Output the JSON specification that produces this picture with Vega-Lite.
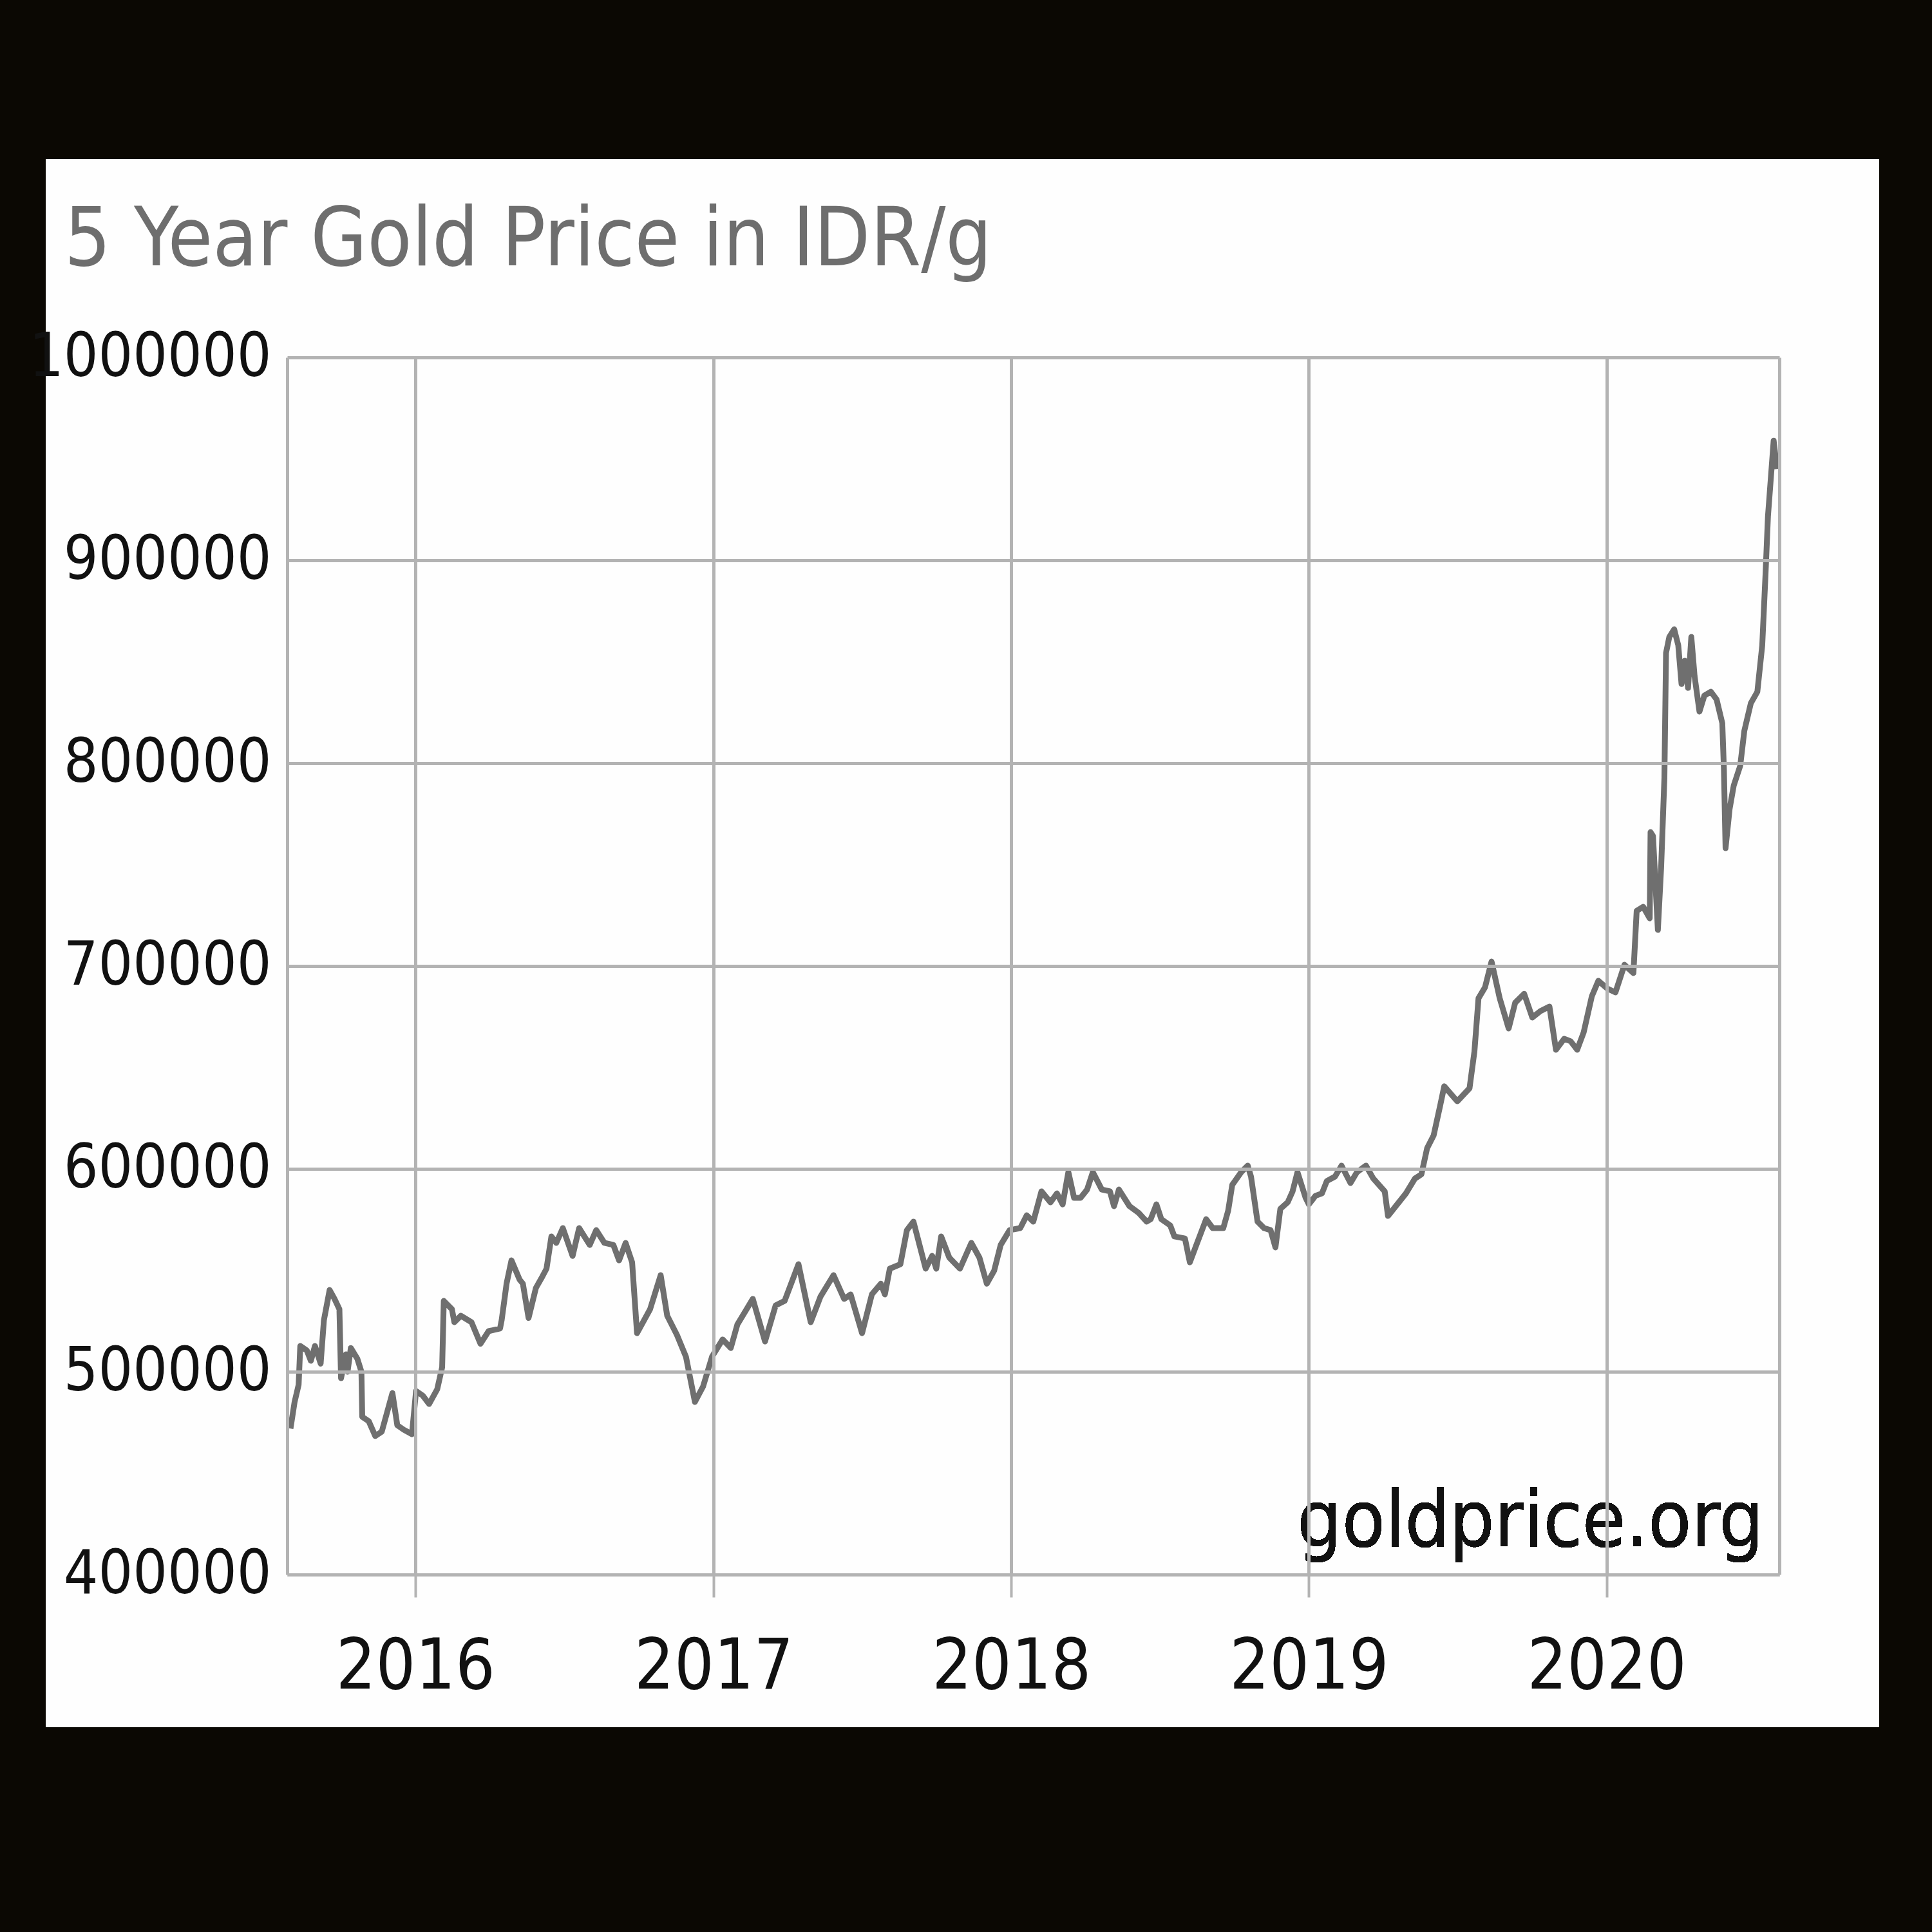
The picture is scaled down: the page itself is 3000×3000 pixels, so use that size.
{
  "$schema": "https://vega.github.io/schema/vega-lite/v6.json",
  "autosize": "none",
  "width": 2317,
  "height": 1890,
  "padding": {"left": 446, "top": 555, "right": 237, "bottom": 555},
  "background": "#0b0803",
  "title": {
    "text": "5 Year Gold Price in IDR/g",
    "anchor": "start",
    "frame": "group",
    "font": "DejaVu Sans Condensed",
    "fontSize": 126,
    "fontWeight": "normal",
    "color": "#6e6e6e",
    "baseline": "alphabetic",
    "dx": -346,
    "offset": -291
  },
  "config": {"view": {"stroke": null}},
  "data": {"values": [
    {"date": "2015-08-01", "price": 472000}, {"date": "2015-08-06", "price": 485000}, {"date": "2015-08-11", "price": 493600},
    {"date": "2015-08-13", "price": 512700}, {"date": "2015-08-21", "price": 510500}, {"date": "2015-08-26", "price": 505400},
    {"date": "2015-08-31", "price": 512700}, {"date": "2015-09-07", "price": 504000}, {"date": "2015-09-11", "price": 525400},
    {"date": "2015-09-18", "price": 540300}, {"date": "2015-09-24", "price": 535900}, {"date": "2015-09-30", "price": 530800},
    {"date": "2015-10-02", "price": 496800}, {"date": "2015-10-08", "price": 508600}, {"date": "2015-10-10", "price": 500000},
    {"date": "2015-10-14", "price": 511700}, {"date": "2015-10-22", "price": 506400}, {"date": "2015-10-27", "price": 500000},
    {"date": "2015-10-28", "price": 477800}, {"date": "2015-11-05", "price": 475600}, {"date": "2015-11-13", "price": 468300},
    {"date": "2015-11-21", "price": 470500}, {"date": "2015-12-04", "price": 489500}, {"date": "2015-12-10", "price": 473600},
    {"date": "2015-12-18", "price": 471400}, {"date": "2015-12-28", "price": 469200}, {"date": "2016-01-02", "price": 490500},
    {"date": "2016-01-10", "price": 488300}, {"date": "2016-01-18", "price": 484100}, {"date": "2016-01-28", "price": 491400},
    {"date": "2016-02-03", "price": 502200}, {"date": "2016-02-05", "price": 534900}, {"date": "2016-02-15", "price": 530800},
    {"date": "2016-02-18", "price": 524400}, {"date": "2016-02-26", "price": 527600}, {"date": "2016-03-10", "price": 524400},
    {"date": "2016-03-21", "price": 513800}, {"date": "2016-03-31", "price": 520000}, {"date": "2016-04-14", "price": 521300},
    {"date": "2016-04-16", "price": 525400}, {"date": "2016-04-22", "price": 543400}, {"date": "2016-04-28", "price": 554900},
    {"date": "2016-05-08", "price": 545400}, {"date": "2016-05-12", "price": 543400}, {"date": "2016-05-19", "price": 526500},
    {"date": "2016-05-28", "price": 541300}, {"date": "2016-06-05", "price": 547000}, {"date": "2016-06-10", "price": 550800},
    {"date": "2016-06-16", "price": 566700}, {"date": "2016-06-22", "price": 563500}, {"date": "2016-06-30", "price": 570800},
    {"date": "2016-07-12", "price": 557100}, {"date": "2016-07-20", "price": 570800}, {"date": "2016-08-02", "price": 562500},
    {"date": "2016-08-10", "price": 569800}, {"date": "2016-08-20", "price": 563500}, {"date": "2016-08-31", "price": 562500},
    {"date": "2016-09-07", "price": 554900}, {"date": "2016-09-15", "price": 563500}, {"date": "2016-09-23", "price": 553900},
    {"date": "2016-09-29", "price": 519000}, {"date": "2016-10-15", "price": 530800}, {"date": "2016-10-28", "price": 547600},
    {"date": "2016-11-05", "price": 527600}, {"date": "2016-11-17", "price": 518100}, {"date": "2016-11-28", "price": 507400},
    {"date": "2016-12-09", "price": 485100}, {"date": "2016-12-19", "price": 492700}, {"date": "2016-12-30", "price": 507400},
    {"date": "2017-01-12", "price": 515900}, {"date": "2017-01-22", "price": 511700}, {"date": "2017-01-30", "price": 523200},
    {"date": "2017-02-18", "price": 535900}, {"date": "2017-03-05", "price": 514900}, {"date": "2017-03-18", "price": 532700},
    {"date": "2017-03-29", "price": 534900}, {"date": "2017-04-15", "price": 553000}, {"date": "2017-04-30", "price": 524400},
    {"date": "2017-05-12", "price": 537000}, {"date": "2017-05-28", "price": 547600}, {"date": "2017-06-10", "price": 535900},
    {"date": "2017-06-18", "price": 538100}, {"date": "2017-07-02", "price": 519000}, {"date": "2017-07-14", "price": 538100},
    {"date": "2017-07-25", "price": 543400}, {"date": "2017-07-30", "price": 538100}, {"date": "2017-08-05", "price": 550800},
    {"date": "2017-08-18", "price": 553000}, {"date": "2017-08-26", "price": 569800}, {"date": "2017-09-03", "price": 574000},
    {"date": "2017-09-18", "price": 550800}, {"date": "2017-09-26", "price": 557100}, {"date": "2017-10-01", "price": 550800},
    {"date": "2017-10-07", "price": 566700}, {"date": "2017-10-17", "price": 556200}, {"date": "2017-10-30", "price": 550800},
    {"date": "2017-11-13", "price": 563500}, {"date": "2017-11-23", "price": 556200}, {"date": "2017-12-02", "price": 543400},
    {"date": "2017-12-11", "price": 549800}, {"date": "2017-12-19", "price": 562500}, {"date": "2017-12-30", "price": 569800},
    {"date": "2018-01-12", "price": 570800}, {"date": "2018-01-20", "price": 577100}, {"date": "2018-01-28", "price": 574000},
    {"date": "2018-02-07", "price": 588900}, {"date": "2018-02-18", "price": 583500}, {"date": "2018-02-26", "price": 587900},
    {"date": "2018-03-05", "price": 582500}, {"date": "2018-03-12", "price": 598400}, {"date": "2018-03-19", "price": 585700},
    {"date": "2018-03-27", "price": 585700}, {"date": "2018-04-04", "price": 589800}, {"date": "2018-04-11", "price": 598400},
    {"date": "2018-04-22", "price": 589800}, {"date": "2018-05-02", "price": 588900}, {"date": "2018-05-07", "price": 581600},
    {"date": "2018-05-13", "price": 589800}, {"date": "2018-05-26", "price": 581600}, {"date": "2018-06-06", "price": 578400},
    {"date": "2018-06-16", "price": 574000}, {"date": "2018-06-21", "price": 575200}, {"date": "2018-06-28", "price": 582500},
    {"date": "2018-07-04", "price": 575200}, {"date": "2018-07-15", "price": 572100}, {"date": "2018-07-20", "price": 566700},
    {"date": "2018-08-02", "price": 565700}, {"date": "2018-08-08", "price": 553900}, {"date": "2018-08-16", "price": 562500},
    {"date": "2018-08-28", "price": 575200}, {"date": "2018-09-05", "price": 570800}, {"date": "2018-09-18", "price": 570800},
    {"date": "2018-09-24", "price": 579400}, {"date": "2018-09-29", "price": 592100}, {"date": "2018-10-10", "price": 598400},
    {"date": "2018-10-18", "price": 601600}, {"date": "2018-10-22", "price": 596200}, {"date": "2018-10-30", "price": 574000},
    {"date": "2018-11-07", "price": 570800}, {"date": "2018-11-15", "price": 569800}, {"date": "2018-11-21", "price": 561300},
    {"date": "2018-11-27", "price": 580300}, {"date": "2018-12-06", "price": 583500}, {"date": "2018-12-12", "price": 588900},
    {"date": "2018-12-18", "price": 598400}, {"date": "2018-12-28", "price": 585700}, {"date": "2019-01-01", "price": 582500},
    {"date": "2019-01-09", "price": 586700}, {"date": "2019-01-17", "price": 587900}, {"date": "2019-01-23", "price": 594000},
    {"date": "2019-02-02", "price": 596200}, {"date": "2019-02-10", "price": 601600}, {"date": "2019-02-21", "price": 593000},
    {"date": "2019-03-01", "price": 598400}, {"date": "2019-03-12", "price": 601600}, {"date": "2019-03-21", "price": 595200},
    {"date": "2019-04-04", "price": 588900}, {"date": "2019-04-08", "price": 576800}, {"date": "2019-04-30", "price": 587900},
    {"date": "2019-05-11", "price": 595200}, {"date": "2019-05-19", "price": 597300}, {"date": "2019-05-26", "price": 610200},
    {"date": "2019-06-03", "price": 616500}, {"date": "2019-06-11", "price": 631200}, {"date": "2019-06-16", "price": 640700},
    {"date": "2019-07-02", "price": 633300}, {"date": "2019-07-17", "price": 639700}, {"date": "2019-07-23", "price": 657800},
    {"date": "2019-07-28", "price": 684100}, {"date": "2019-08-05", "price": 689500}, {"date": "2019-08-13", "price": 702200},
    {"date": "2019-08-23", "price": 684100}, {"date": "2019-09-03", "price": 669200}, {"date": "2019-09-11", "price": 681900},
    {"date": "2019-09-22", "price": 686300}, {"date": "2019-10-02", "price": 674600}, {"date": "2019-10-12", "price": 677800},
    {"date": "2019-10-23", "price": 680000}, {"date": "2019-10-31", "price": 658700}, {"date": "2019-11-10", "price": 664100},
    {"date": "2019-11-18", "price": 662900}, {"date": "2019-11-26", "price": 658700}, {"date": "2019-12-04", "price": 667300},
    {"date": "2019-12-14", "price": 685100}, {"date": "2019-12-22", "price": 692700}, {"date": "2020-01-02", "price": 688900},
    {"date": "2020-01-12", "price": 687000}, {"date": "2020-01-23", "price": 700600}, {"date": "2020-02-03", "price": 696500},
    {"date": "2020-02-07", "price": 727200}, {"date": "2020-02-15", "price": 729200}, {"date": "2020-02-23", "price": 723500},
    {"date": "2020-02-24", "price": 766000}, {"date": "2020-02-27", "price": 764100}, {"date": "2020-03-04", "price": 717800},
    {"date": "2020-03-08", "price": 748600}, {"date": "2020-03-12", "price": 792700}, {"date": "2020-03-14", "price": 854300},
    {"date": "2020-03-18", "price": 862200}, {"date": "2020-03-24", "price": 866000}, {"date": "2020-03-29", "price": 858100},
    {"date": "2020-04-02", "price": 839000}, {"date": "2020-04-06", "price": 850500}, {"date": "2020-04-10", "price": 837100},
    {"date": "2020-04-14", "price": 862200}, {"date": "2020-04-18", "price": 842900}, {"date": "2020-04-24", "price": 825400},
    {"date": "2020-04-30", "price": 833300}, {"date": "2020-05-08", "price": 835200}, {"date": "2020-05-15", "price": 831400},
    {"date": "2020-05-22", "price": 819700}, {"date": "2020-05-24", "price": 796800}, {"date": "2020-05-26", "price": 758100},
    {"date": "2020-05-31", "price": 777500}, {"date": "2020-06-05", "price": 788900}, {"date": "2020-06-13", "price": 798700},
    {"date": "2020-06-18", "price": 815900}, {"date": "2020-06-26", "price": 829500}, {"date": "2020-07-04", "price": 835200},
    {"date": "2020-07-10", "price": 858100}, {"date": "2020-07-14", "price": 893000}, {"date": "2020-07-17", "price": 921600},
    {"date": "2020-07-24", "price": 959000}, {"date": "2020-07-28", "price": 945000}
  ]},
  "layer": [
    {
      "mark": {"type": "rect", "fill": "#fefefe"},
      "encoding": {
        "x": {"datum": {"year": 2014, "month": 10, "date": 5}, "type": "temporal",
              "scale": {"domain": [{"year": 2015, "month": 7, "date": 28}, {"year": 2020, "month": 7, "date": 31}]}},
        "x2": {"datum": {"year": 2020, "month": 11, "date": 30}},
        "y": {"datum": 1097778, "type": "quantitative", "scale": {"domain": [400000, 1000000], "nice": false, "zero": false}},
        "y2": {"datum": 324762}
      }
    },
    {
      "mark": {"type": "line", "color": "#6f6f6f", "strokeWidth": 9, "strokeJoin": "round"},
      "encoding": {
        "x": {
          "field": "date", "type": "temporal",
          "scale": {"domain": [{"year": 2015, "month": 7, "date": 28}, {"year": 2020, "month": 7, "date": 31}]},
          "axis": {
            "title": null,
            "values": [
              {"year": 2015, "month": 7, "date": 28},
              {"year": 2016, "month": 1, "date": 1},
              {"year": 2017, "month": 1, "date": 1},
              {"year": 2018, "month": 1, "date": 1},
              {"year": 2019, "month": 1, "date": 1},
              {"year": 2020, "month": 1, "date": 1},
              {"year": 2020, "month": 7, "date": 31}
            ],
            "labelExpr": "(month(datum.value) == 0 && date(datum.value) == 1) ? timeFormat(datum.value, '%Y') : ''",
            "grid": true, "gridColor": "#b3b3b3", "gridWidth": 5,
            "domain": true, "domainColor": "#b3b3b3", "domainWidth": 5,
            "ticks": true, "tickSize": 35, "tickColor": "#b3b3b3", "tickWidth": 4,
            "tickOpacity": {"condition": {"test": "month(datum.value) == 0 && date(datum.value) == 1", "value": 1}, "value": 0},
            "labelFont": "DejaVu Sans Condensed", "labelFontSize": 108, "labelColor": "#111111",
            "labelPadding": 56, "labelLimit": 1000, "labelFlush": false, "labelOverlap": false, "zindex": 1
          }
        },
        "y": {
          "field": "price", "type": "quantitative",
          "scale": {"domain": [400000, 1000000], "nice": false, "zero": false},
          "axis": {
            "title": null,
            "values": [400000, 500000, 600000, 700000, 800000, 900000, 1000000],
            "format": "d",
            "grid": true, "gridColor": "#b3b3b3", "gridWidth": 5,
            "domain": false, "ticks": false, "tickSize": 0,
            "labelFont": "DejaVu Sans Condensed", "labelFontSize": 94, "labelColor": "#111111",
            "labelPadding": 25, "labelLimit": 1000, "labelFlush": false, "labelOverlap": false, "zindex": 1
          }
        }
      }
    },
    {
      "mark": {"type": "text", "text": "goldprice.org", "font": "DejaVu Sans Condensed", "fontSize": 122, "align": "right", "baseline": "alphabetic", "color": "#111111"},
      "encoding": {
        "x": {"datum": {"year": 2020, "month": 7, "date": 12}, "type": "temporal"},
        "y": {"datum": 414000, "type": "quantitative"}
      }
    }
  ]
}
